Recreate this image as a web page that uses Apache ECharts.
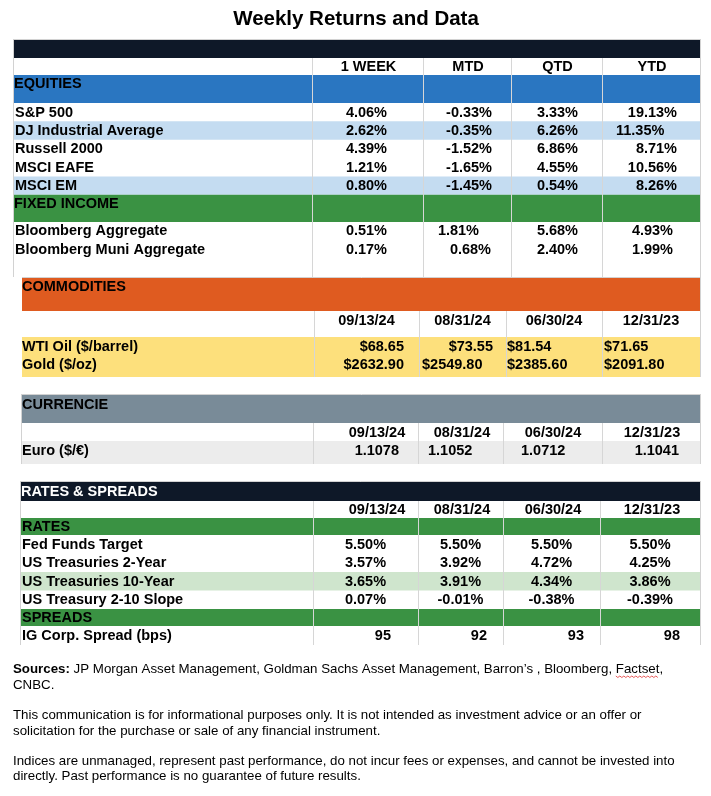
<!DOCTYPE html>
<html><head><meta charset="utf-8">
<script src="https://cdn.jsdelivr.net/npm/echarts@6/dist/echarts.min.js"></script>
<style>html,body{margin:0;padding:0;background:#fff}#c{width:711px;height:796px}</style>
</head><body><div id="c"></div>
<script>
// ---------------- DATA ----------------
const chartTitle = 'Weekly Returns and Data';
const returnHeaders = ['1 WEEK', 'MTD', 'QTD', 'YTD'];
const dateHeaders = ['09/13/24', '08/31/24', '06/30/24', '12/31/23'];
const sectionTitles = ['EQUITIES', 'FIXED INCOME', 'COMMODITIES', 'CURRENCIE', 'RATES & SPREADS', 'RATES', 'SPREADS'];

const equityNames = ['S&P 500', 'DJ Industrial Average', 'Russell 2000', 'MSCI EAFE', 'MSCI EM'];
const equityReturns = [
  [4.06, -0.33, 3.33, 19.13],
  [2.62, -0.35, 6.26, 11.35],
  [4.39, -1.52, 6.86, 8.71],
  [1.21, -1.65, 4.55, 10.56],
  [0.80, -1.45, 0.54, 8.26]
];
const fixedIncomeNames = ['Bloomberg Aggregate', 'Bloomberg Muni Aggregate'];
const fixedIncomeReturns = [
  [0.51, 1.81, 5.68, 4.93],
  [0.17, 0.68, 2.40, 1.99]
];
const commodityNames = ['WTI Oil ($/barrel)', 'Gold ($/oz)'];
const commodityPrices = [
  [68.65, 73.55, 81.54, 71.65],
  [2632.90, 2549.80, 2385.60, 2091.80]
];
const currencyNames = ['Euro ($/€)'];
const currencyRates = [[1.1078, 1.1052, 1.0712, 1.1041]];
const rateNames = ['Fed Funds Target', 'US Treasuries 2-Year', 'US Treasuries 10-Year', 'US Treasury 2-10 Slope'];
const rateValues = [
  [5.50, 5.50, 5.50, 5.50],
  [3.57, 3.92, 4.72, 4.25],
  [3.65, 3.91, 4.34, 3.86],
  [0.07, -0.01, -0.38, -0.39]
];
const spreadNames = ['IG Corp. Spread (bps)'];
const spreadValues = [[95, 92, 93, 98]];

const sourcesLabel = 'Sources:';
const footnotes = [
  ' JP Morgan Asset Management, Goldman Sachs Asset Management, Barron\u2019s , Bloomberg, Factset,',
  'CNBC.',
  'This communication is for informational purposes only. It is not intended as investment advice or an offer or',
  'solicitation for the purchase or sale of any financial instrument.',
  'Indices are unmanaged, represent past performance, do not incur fees or expenses, and cannot be invested into',
  'directly. Past performance is no guarantee of future results.'
];

// ---------------- STYLE / LAYOUT ----------------
const FONT = "'Liberation Sans', Arial, Helvetica, sans-serif";
const COL = {
  navy: '#0e1828', blue: '#2a76c1', lightBlue: '#c4dcf1', green: '#3a9243',
  orange: '#df5b20', yellow: '#fde07c', slate: '#798b98', lightGrey: '#ececec',
  lightGreen: '#cfe5cd', grid: '#d6d6d6', border: '#d2d2d2', text: '#000000'
};
const BODY = 14.5;
const pct = v => v.toFixed(2) + '%';
const usd = v => '$' + v.toFixed(2);
const fx = v => v.toFixed(4);
const int = v => String(Math.round(v));

const els = [];
function rect(x0, y0, x1, y1, fill) {
  els.push({ type: 'rect', silent: true, shape: { x: x0, y: y0, width: x1 - x0, height: y1 - y0 }, style: { fill: fill } });
}
function vline(x, y0, y1, stroke) {
  els.push({ type: 'line', silent: true, shape: { x1: x + 0.5, y1: y0, x2: x + 0.5, y2: y1 }, style: { stroke: stroke || COL.grid, lineWidth: 1 } });
}
function hline(x0, x1, y, stroke) {
  els.push({ type: 'line', silent: true, shape: { x1: x0, y1: y + 0.5, x2: x1, y2: y + 0.5 }, style: { stroke: stroke || COL.border, lineWidth: 1 } });
}
function txt(x, y, s, o) {
  o = o || {};
  const size = o.size || BODY;
  const weight = o.weight || 'bold';
  const align = o.align || 'left';
  els.push({
    type: 'text', silent: true, x: x, y: y,
    style: {
      text: s, font: weight + ' ' + size + 'px ' + FONT, fill: o.color || COL.text,
      align: align, verticalAlign: 'middle', textAlign: align, textVerticalAlign: 'middle',
      rich: o.rich
    }
  });
}
// place a value: anchor = [alignment, x]
function cell(anchor, y, s) { txt(anchor[1], y, s, { align: anchor[0] === 'l' ? 'left' : anchor[0] === 'c' ? 'center' : 'right' }); }
const centers = b => b.slice(0, -1).map((x, i) => (x + b[i + 1]) / 2);

// Title
txt(356, 19.5, chartTitle, { size: 20.5, align: 'center' });

// ===== Section A: equities & fixed income =====
(function () {
  const x0 = 13, x1 = 700, bounds = [312, 423, 511, 602, 700];
  const cc = centers(bounds);
  hline(x0, x1 + 1, 39);
  rect(x0 + 1, 40, x1, 58, COL.navy);
  returnHeaders.forEach((h, i) => txt(cc[i] + 1, 66.5, h, { align: 'center' }));
  rect(x0 + 1, 75, x1, 103, COL.blue);
  txt(14, 84, sectionTitles[0]);
  const eqTop = 103, eqH = 18.35;
  const eqAnchors = [['r', 387], ['r', 492], ['r', 578], ['r', 677]];
  equityNames.forEach((n, r) => {
    const y0 = eqTop + r * eqH;
    if (r === 1 || r === 4) rect(x0 + 1, y0, x1, y0 + eqH, COL.lightBlue);
  });
  equityNames.forEach((n, r) => {
    const yc = eqTop + r * eqH + eqH / 2 + 0.5;
    txt(15, yc, n);
    equityReturns[r].forEach((v, c) => {
      const a = (r === 1 && c === 3) ? ['l', 616] : eqAnchors[c];
      cell(a, yc, pct(v));
    });
  });
  const fiBand0 = eqTop + equityNames.length * eqH;
  rect(x0 + 1, fiBand0, x1, 222, COL.green);
  txt(14, 203.5, sectionTitles[1]);
  const fiTop = 222, fiH = 18.7;
  const fiAnchors = [
    [['r', 387], ['r', 479], ['r', 578], ['r', 673]],
    [['r', 387], ['r', 491], ['r', 578], ['r', 673]]
  ];
  fixedIncomeNames.forEach((n, r) => {
    const yc = fiTop + r * fiH + fiH / 2;
    txt(15, yc, n);
    fixedIncomeReturns[r].forEach((v, c) => cell(fiAnchors[r][c], yc, pct(v)));
  });
  bounds.slice(0, 4).forEach(x => vline(x, 58, 277));
  vline(x1, 39, 277, COL.border);
  vline(x0, 39, 277, COL.border);
})();

// ===== Section B: commodities =====
(function () {
  const x0 = 22, x1 = 700, bounds = [314, 419, 506, 602, 700];
  const cc = centers(bounds);
  hline(x0, x1 + 1, 277);
  rect(x0, 278, x1, 311, COL.orange);
  txt(22, 287, sectionTitles[2]);
  dateHeaders.forEach((d, i) => txt(cc[i], 320.5, d, { align: 'center' }));
  rect(x0, 337, x1, 377, COL.yellow);
  const anchors = [
    [['r', 404], ['r', 493], ['l', 507], ['l', 604]],
    [['r', 404], ['l', 422], ['l', 507], ['l', 604]]
  ];
  const ys = [346.5, 364.5];
  commodityNames.forEach((n, r) => {
    txt(22, ys[r], n);
    commodityPrices[r].forEach((v, c) => cell(anchors[r][c], ys[r], usd(v)));
  });
  bounds.slice(0, 4).forEach(x => vline(x, 311, 377));
  vline(x1, 277, 377, COL.border);
})();

// ===== Section C: currencies =====
(function () {
  const x0 = 22, x1 = 700, bounds = [313, 418, 503, 602, 700];
  hline(x0, x1 + 1, 394);
  rect(x0, 395, x1, 423, COL.slate);
  txt(22, 405, sectionTitles[3]);
  const dateX = [377, 462, 553, 652];
  dateHeaders.forEach((d, i) => txt(dateX[i], 433, d, { align: 'center' }));
  rect(x0, 441, x1, 464, COL.lightGrey);
  const anchors = [['r', 399], ['l', 428], ['l', 521], ['r', 679]];
  currencyNames.forEach((n, r) => {
    txt(22, 450.5, n);
    currencyRates[r].forEach((v, c) => cell(anchors[c], 450.5, fx(v)));
  });
  bounds.slice(0, 4).forEach(x => vline(x, 423, 464));
  vline(x1, 394, 464, COL.border);
  vline(x0 - 1, 394, 464, COL.border);
})();

// ===== Section D: rates & spreads =====
(function () {
  const x0 = 20, x1 = 700, bounds = [313, 418, 503, 600, 700];
  const cc = centers(bounds);
  hline(x0, x1 + 1, 481);
  rect(x0, 482, x1, 501, COL.navy);
  txt(21, 491.5, sectionTitles[4], { color: '#ffffff' });
  const dateX = [377, 462, 553, 652];
  dateHeaders.forEach((d, i) => txt(dateX[i], 510, d, { align: 'center' }));
  rect(x0, 518, x1, 535, COL.green);
  txt(22, 527, sectionTitles[5]);
  const rTop = 535, rH = 18.5;
  rateNames.forEach((n, r) => {
    if (r === 2) rect(x0, rTop + r * rH, x1, rTop + (r + 1) * rH, COL.lightGreen);
  });
  rateNames.forEach((n, r) => {
    const yc = rTop + r * rH + rH / 2 + 0.5;
    txt(22, yc, n);
    rateValues[r].forEach((v, c) => cell(['c', cc[c]], yc, pct(v)));
  });
  const spBand0 = rTop + rateNames.length * rH;
  rect(x0, spBand0, x1, spBand0 + 17, COL.green);
  txt(22, spBand0 + 9, sectionTitles[6]);
  const spTop = spBand0 + 17, spH = 19;
  const spAnchors = [['r', 391], ['r', 487], ['r', 584], ['r', 680]];
  spreadNames.forEach((n, r) => {
    const yc = spTop + r * spH + spH / 2;
    txt(22, yc, n);
    spreadValues[r].forEach((v, c) => cell(spAnchors[c], yc, int(v)));
  });
  bounds.slice(0, 4).forEach(x => vline(x, 501, spTop + spreadNames.length * spH));
  vline(x1, 481, spTop + spreadNames.length * spH, COL.border);
  vline(x0, 481, spTop + spreadNames.length * spH, COL.border);
})();

// ===== Footer =====
(function () {
  const FS = 13.3;
  const ys = [669, 685, 715, 731, 761.5, 776.5];
  els.push({
    type: 'text', silent: true, x: 13, y: ys[0],
    style: {
      text: '{b|' + sourcesLabel + '}{n|' + footnotes[0] + '}',
      font: 'normal ' + FS + 'px ' + FONT, fill: '#000',
      align: 'left', verticalAlign: 'middle', textAlign: 'left', textVerticalAlign: 'middle',
      rich: {
        b: { fontWeight: 'bold', fontSize: FS, fontFamily: FONT, fill: '#000' },
        n: { fontWeight: 'normal', fontSize: FS, fontFamily: FONT, fill: '#000' }
      }
    }
  });
  for (let i = 1; i < footnotes.length; i++) txt(13, ys[i], footnotes[i], { size: FS, weight: 'normal' });
  // spell-check squiggle under "Factset"
  const ctx = document.createElement('canvas').getContext('2d');
  ctx.font = 'bold ' + FS + 'px ' + FONT;
  const wb = ctx.measureText(sourcesLabel).width;
  ctx.font = 'normal ' + FS + 'px ' + FONT;
  const full = footnotes[0];
  const idx = full.indexOf('Factset');
  const xs = 13 + wb + ctx.measureText(full.slice(0, idx)).width;
  const xe = xs + ctx.measureText('Factset').width;
  const pts = [];
  let k = 0;
  for (let x = xs; x <= xe; x += 2, k++) pts.push([x, ys[0] + 7 + (k % 2 ? 1.5 : 0)]);
  els.push({ type: 'polyline', silent: true, shape: { points: pts }, style: { stroke: '#e03030', lineWidth: 0.8, fill: null } });
})();

const chart = echarts.init(document.getElementById('c'), null, { renderer: 'canvas' });
chart.setOption({ backgroundColor: '#ffffff', animation: false, graphic: { elements: els } });
</script>
</body></html>
